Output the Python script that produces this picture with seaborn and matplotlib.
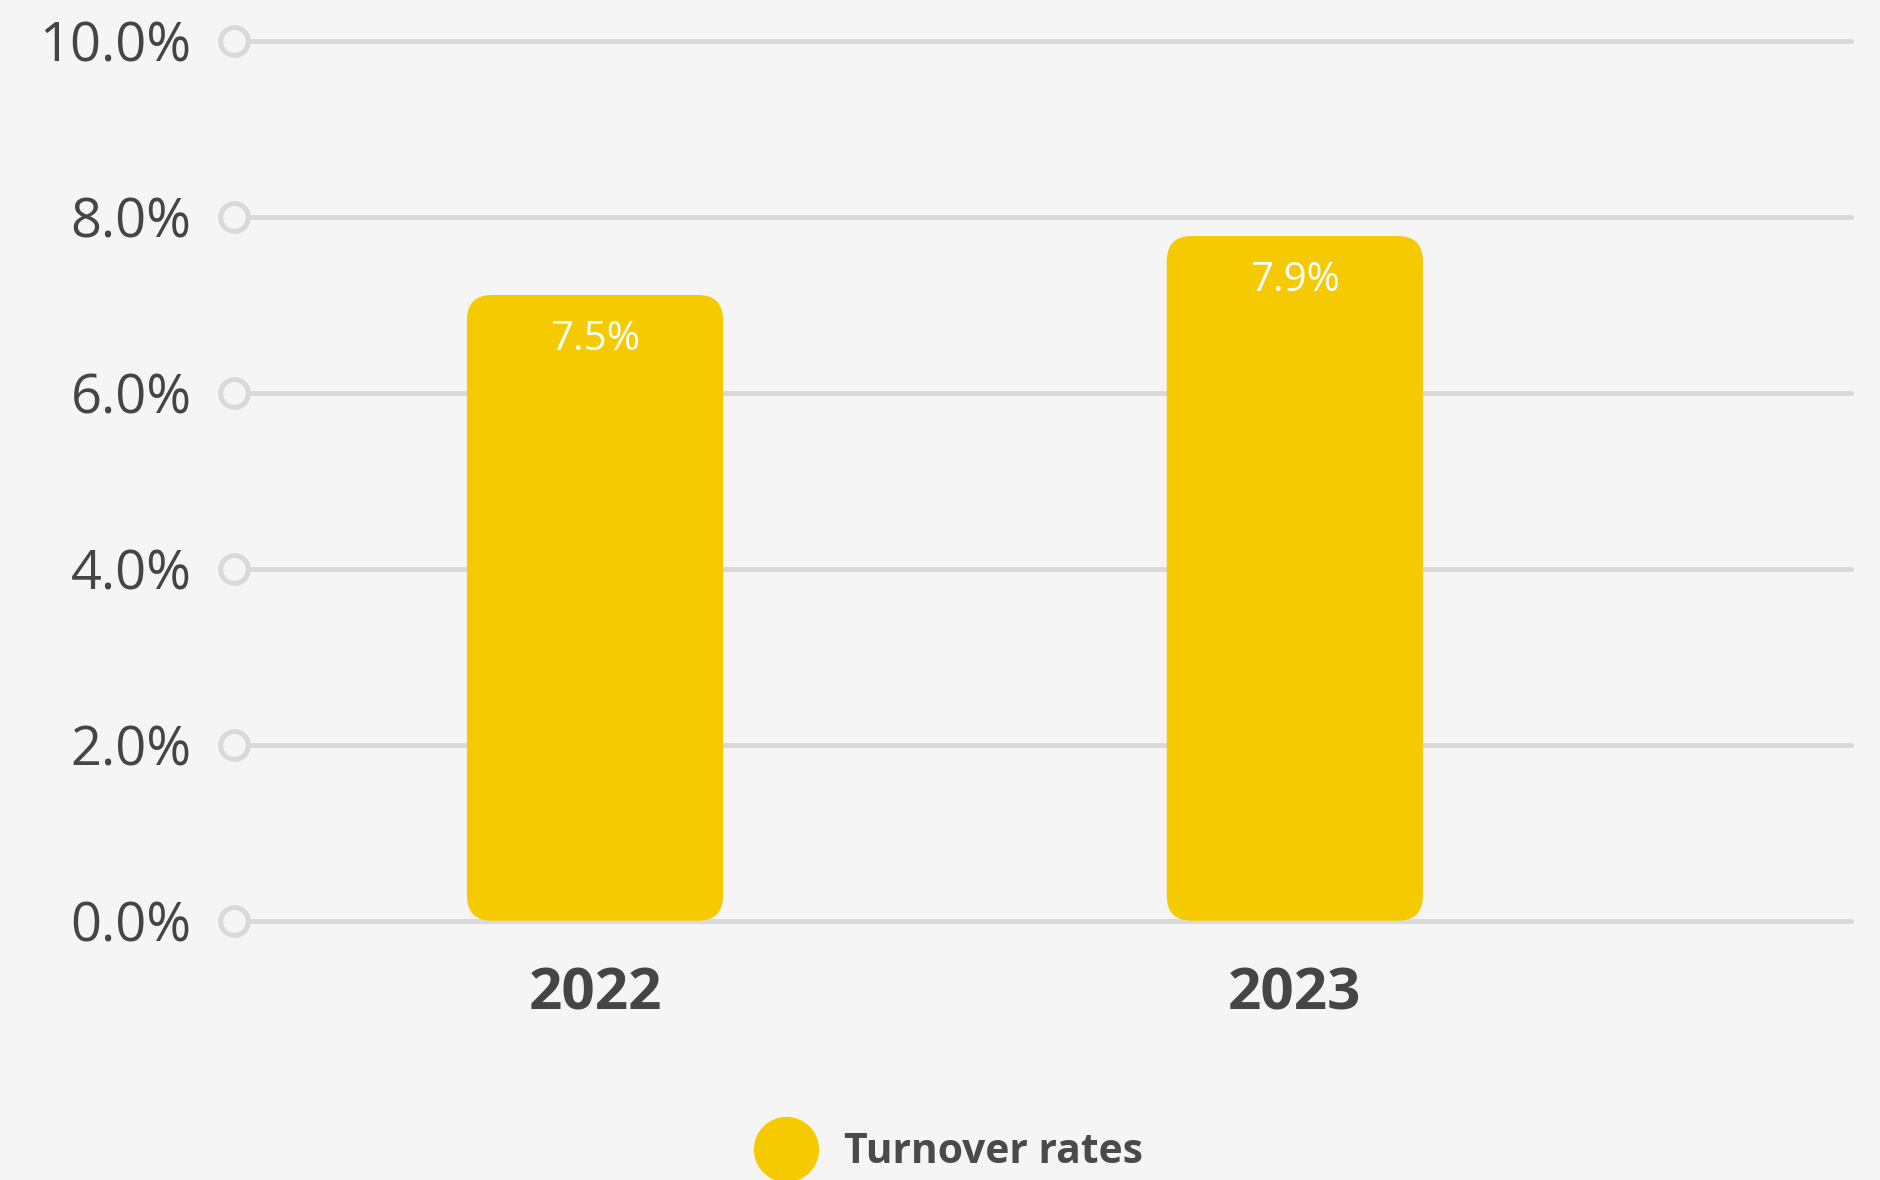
import matplotlib
matplotlib.use("Agg")
import matplotlib.pyplot as plt
import seaborn as sns
import pandas as pd
from matplotlib.patches import FancyBboxPatch
from matplotlib.lines import Line2D

# ---- data ----
years = ["2022", "2023"]
bar_heights = [7.11, 7.78]          # heights as drawn in the reference (%)
value_labels = ["7.5%", "7.9%"]     # labels printed on the bars
y_ticks = [0, 2, 4, 6, 8, 10]
y_tick_labels = ["0.0%", "2.0%", "4.0%", "6.0%", "8.0%", "10.0%"]
series_name = "Turnover rates"

BG = "#F5F5F5"
BAR = "#F6CA00"
GRID = "#D9D9D9"
TXT = "#454545"

sns.set_theme(style="white")
plt.rcParams["font.family"] = ["Open Sans", "DejaVu Sans"]

df = pd.DataFrame({"year": years, "rate": bar_heights})

W, H = 1881, 1180
ax_left_px, ax_right_px = 250, 1854
fig = plt.figure(figsize=(W / 100, H / 100), dpi=100, facecolor=BG)
ax_rect = [ax_left_px / W, 0.2123, (ax_right_px - ax_left_px) / W, 0.7607]
ax = fig.add_axes(ax_rect)
ax.set_facecolor(BG)

width = 0.366
sns.barplot(data=df, x="year", y="rate", color=BAR, width=width, ax=ax,
            saturation=1, errorbar=None, zorder=3)

xlim = (-0.493, 1.799)
ylim = (-0.1, 10.1)
ax.set_xlim(*xlim)
ax.set_ylim(*ylim)

# pixel scales for corner rounding
ax_w_px = ax_rect[2] * W
ax_h_px = ax_rect[3] * H
px_per_x = ax_w_px / (xlim[1] - xlim[0])
px_per_y = ax_h_px / (ylim[1] - ylim[0])
radius_px = 25
r_x = radius_px / px_per_x
aspect = px_per_x / px_per_y

old = list(ax.patches)
for p in old:
    x0, y0 = p.get_x(), p.get_y()
    w, h = p.get_width(), p.get_height()
    p.remove()
    fb = FancyBboxPatch((x0, y0), w, h,
                        boxstyle=f"round,pad=0,rounding_size={r_x}",
                        mutation_aspect=aspect, facecolor=BAR,
                        edgecolor="none", zorder=3)
    ax.add_patch(fb)

# gridlines
for yt in y_ticks:
    ax.plot([xlim[0], xlim[1] - 3 / px_per_x], [yt, yt], color=GRID, lw=3.6,
            solid_capstyle="round", zorder=1, clip_on=False)
# circle markers at left
ax.plot([xlim[0] - 16 / px_per_x] * len(y_ticks), y_ticks, linestyle="none",
        marker="o", markersize=20, markerfacecolor=BG, markeredgecolor=GRID,
        markeredgewidth=3.6, clip_on=False, zorder=4)

# value labels
for i, (h, lab) in enumerate(zip(bar_heights, value_labels)):
    ax.annotate(lab, (i, h), xytext=(0, -32.5), textcoords="offset points",
                ha="center", va="center", color="white", fontsize=29, zorder=5)

ax.set_yticks(y_ticks)
ax.set_yticklabels(y_tick_labels, fontsize=39, color=TXT)
ax.tick_params(axis="y", length=0, pad=42)
ax.set_xticks(range(len(years)))
ax.set_xticklabels(years, fontsize=42, fontweight="bold", color=TXT)
ax.tick_params(axis="x", length=0, pad=26)
ax.set_xlabel("")
ax.set_ylabel("")
for s in ax.spines.values():
    s.set_visible(False)
ax.grid(False)

handle = Line2D([], [], linestyle="none", marker="o", markersize=47,
                markerfacecolor=BAR, markeredgecolor="none")
leg = fig.legend([handle], [series_name], loc="center",
                 bbox_to_anchor=(0.502, 0.0234), frameon=False,
                 prop={"size": 29.3, "weight": "bold"}, handletextpad=0.42,
                 borderpad=0)
for t in leg.get_texts():
    t.set_color("#4a4a4a")

fig.savefig("out.png", dpi=100, facecolor=BG)
